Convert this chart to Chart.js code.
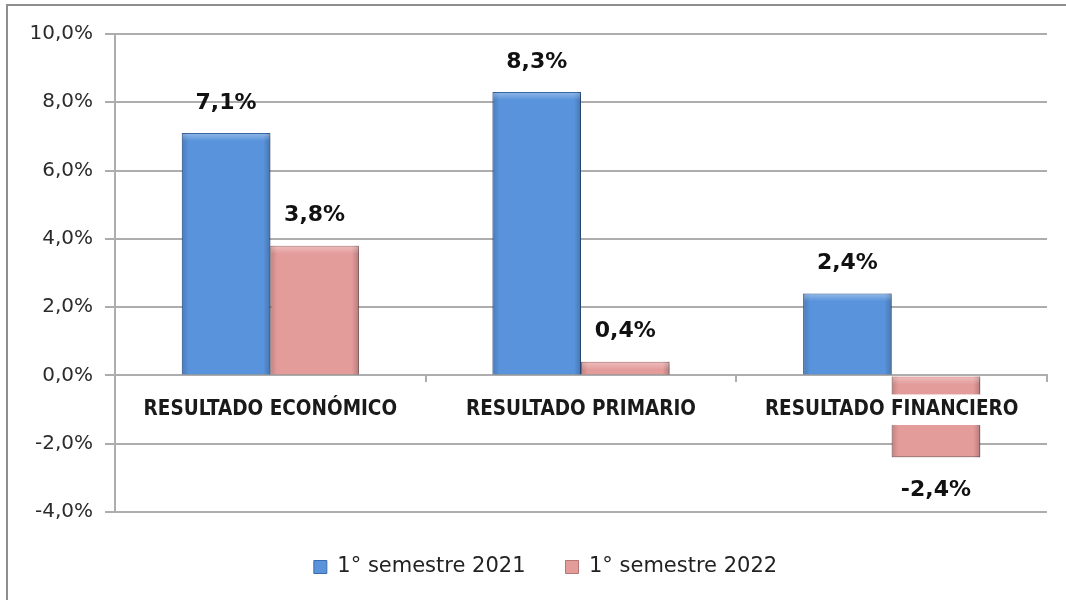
<!DOCTYPE html>
<html>
<head>
<meta charset="utf-8">
<script src="https://cdn.jsdelivr.net/npm/chart.js@4.4.0/dist/chart.umd.min.js"></script>
<style>
  html, body { margin: 0; padding: 0; background: #fff; }
  canvas { display: block; }
</style>
</head>
<body>
<canvas id="chart" width="1066" height="600"></canvas>
<script>
// Data
const categories = ['RESULTADO ECONÓMICO', 'RESULTADO PRIMARIO', 'RESULTADO FINANCIERO']
const seriesNames = ['1° semestre 2021', '1° semestre 2022']
const sem2021 = [7.1, 8.3, 2.4]
const sem2022 = [3.8, 0.4, -2.4]
const yMin = -4
const yMax = 10
const yStep = 2

const colors = {
  blue: '#5893dc',
  blueEdge: '#3d6cad',
  pink: '#e49c9b',
  pinkEdge: '#b57676',
  grid: '#adadad',
  frame: '#8e8e8e',
  text: '#222222'
}

const fmt = v => v.toFixed(1).replace('.', ',') + '%'

// white background plus the cropped outer frame (top and left edges)
const framePlugin = {
  id: 'frame',
  beforeDraw(chart) {
    const ctx = chart.ctx
    ctx.save()
    ctx.fillStyle = '#fff'
    ctx.fillRect(0, 0, chart.width, chart.height)
    ctx.strokeStyle = colors.frame
    ctx.lineWidth = 2
    ctx.beginPath()
    ctx.moveTo(7, chart.height)
    ctx.lineTo(7, 5)
    ctx.lineTo(chart.width, 5)
    ctx.stroke()
    ctx.restore()
  },
  // legend sits centred on the frame rather than the plot
  afterLayout(chart) {
    chart.legend.left += 22
    chart.legend.right += 22
  }
}

// soft shadow under the bars
const shadowPlugin = {
  id: 'barShadow',
  beforeDatasetsDraw(chart) {
    const ctx = chart.ctx
    ctx.save()
    ctx.shadowColor = 'rgba(0, 0, 0, 0.3)'
    ctx.shadowBlur = 4
    ctx.shadowOffsetX = 2
    ctx.shadowOffsetY = 2
  },
  afterDatasetsDraw(chart) {
    chart.ctx.restore()
  }
}

// bevel look + value labels
const labelPlugin = {
  id: 'valueLabels',
  afterDatasetsDraw(chart) {
    const ctx = chart.ctx
    chart.data.datasets.forEach((ds, di) => {
      const meta = chart.getDatasetMeta(di)
      meta.data.forEach((bar, i) => {
        const { x, y, base, width } = bar.getProps(['x', 'y', 'base', 'width'], true)
        const left = x - width / 2
        const top = Math.min(y, base)
        const h = Math.abs(base - y)

        ctx.save()
        const g = ctx.createLinearGradient(left, 0, left + width, 0)
        g.addColorStop(0, 'rgba(0,0,0,0.16)')
        g.addColorStop(0.08, 'rgba(0,0,0,0)')
        g.addColorStop(0.92, 'rgba(0,0,0,0)')
        g.addColorStop(1, 'rgba(0,0,0,0.2)')
        ctx.fillStyle = g
        ctx.fillRect(left, top, width, h)
        const hl = Math.min(8, h)
        const v = ctx.createLinearGradient(0, top, 0, top + hl)
        v.addColorStop(0, 'rgba(255,255,255,0.35)')
        v.addColorStop(1, 'rgba(255,255,255,0)')
        ctx.fillStyle = v
        ctx.fillRect(left + 1, top + 1, width - 2, hl)
        ctx.restore()

        const value = ds.data[i]
        ctx.save()
        ctx.font = 'bold 22px "DejaVu Sans"'
        ctx.fillStyle = '#111'
        ctx.textAlign = 'center'
        ctx.textBaseline = 'middle'
        const ty = value >= 0 ? y - 30 : y + 33
        ctx.fillText(fmt(value), x, ty)
        ctx.restore()
      })
    })
  }
}

const ctx = document.getElementById('chart').getContext('2d')

new Chart(ctx, {
  type: 'bar',
  data: {
    labels: categories,
    datasets: [
      {
        label: seriesNames[0],
        data: sem2021,
        backgroundColor: colors.blue,
        borderColor: colors.blueEdge,
        borderWidth: 1,
        categoryPercentage: 0.57,
        barPercentage: 1
      },
      {
        label: seriesNames[1],
        data: sem2022,
        backgroundColor: colors.pink,
        borderColor: colors.pinkEdge,
        borderWidth: 1,
        categoryPercentage: 0.57,
        barPercentage: 1
      }
    ]
  },
  options: {
    responsive: false,
    animation: false,
    layout: {
      padding: { top: 34, right: 19, bottom: 12.5, left: 0 }
    },
    plugins: {
      legend: {
        position: 'bottom',
        title: {
          display: true,
          text: '',
          padding: 0,
          font: { size: 4.5, lineHeight: 1 }
        },
        labels: {
          boxWidth: 13,
          boxHeight: 13,
          padding: 40,
          color: colors.text,
          font: { family: '"DejaVu Sans"', size: 21 }
        }
      },
      tooltip: { enabled: false }
    },
    scales: {
      x: {
        position: { y: 0 },
        grid: {
          drawOnChartArea: false,
          drawTicks: true,
          tickLength: 6,
          color: colors.grid,
          lineWidth: 2,
          offset: true
        },
        border: { display: true, color: colors.grid, width: 2 },
        ticks: {
          z: 1,
          padding: 16,
          maxRotation: 0,
          autoSkip: false,
          color: '#1a1a1a',
          font: { family: '"DejaVu Sans Condensed", "DejaVu Sans"', size: 20.5, weight: 'bold' },
          showLabelBackdrop: true,
          backdropColor: '#ffffff',
          backdropPadding: { x: 3, y: 3 }
        }
      },
      y: {
        min: yMin,
        max: yMax,
        afterFit: s => { s.width = 115 },
        grid: {
          color: colors.grid,
          lineWidth: 2,
          tickLength: 10
        },
        border: { display: true, color: colors.grid, width: 2 },
        ticks: {
          stepSize: yStep,
          padding: 12,
          color: '#2b2b2b',
          font: { family: '"DejaVu Sans"', size: 20 },
          callback: v => fmt(v)
        }
      }
    }
  },
  plugins: [framePlugin, shadowPlugin, labelPlugin]
})
</script>
</body>
</html>
